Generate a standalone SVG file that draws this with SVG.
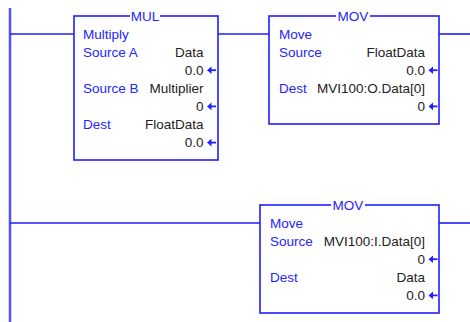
<svg xmlns="http://www.w3.org/2000/svg" width="470" height="322" viewBox="0 0 470 322">
<defs>
<style>
.box{fill:#fff;stroke:#1f1fff;stroke-width:1.6}
.wire{stroke:#1f1fff;stroke-width:1.6;fill:none}
.rail{stroke:#5050ff;stroke-width:2.5;fill:none}
.lbl{font-family:"Liberation Sans",Arial,sans-serif;font-size:13.5px;fill:#2424ff}
.val{font-family:"Liberation Sans",Arial,sans-serif;font-size:13.5px;fill:#222;text-anchor:end}
.ttl{font-family:"Liberation Sans",Arial,sans-serif;font-size:13.5px;fill:#2424ff;text-anchor:middle}
.arr{fill:#1f1fff;stroke:none}
.arrs{stroke:#1f1fff;stroke-width:1.8;fill:none}
</style>
<g id="arrow">
<path class="arr" d="M0,0 L4.5,-3.8 L4.5,3.8 Z"/>
<path class="arrs" d="M3,0 L9,0"/>
</g>
</defs>
<g id="connectors">
<path class="rail" d="M10,8 V322"/>
<path class="wire" d="M10,34 H74"/>
<path class="wire" d="M218,34 H269"/>
<path class="wire" d="M439,34 H470"/>
<path class="wire" d="M10,223 H260"/>
<path class="wire" d="M439,223 H470"/>
</g>
<g id="mul">
<rect class="box" x="74" y="16" width="144" height="144"/>
<rect x="130" y="12" width="30" height="8" fill="#fff"/>
<text class="ttl" x="145" y="20.5">MUL</text>
<text class="lbl" x="83" y="38.5">Multiply</text>
<text class="lbl" x="83" y="56.6">Source A</text>
<text class="val" x="203.5" y="56.6">Data</text>
<text class="val" x="203.5" y="74.7">0.0</text>
<use href="#arrow" x="207" y="70.2"/>
<text class="lbl" x="83" y="92.8">Source B</text>
<text class="val" x="203.5" y="92.8">Multiplier</text>
<text class="val" x="203.5" y="110.9">0</text>
<use href="#arrow" x="207" y="106.4"/>
<text class="lbl" x="83" y="129">Dest</text>
<text class="val" x="203.5" y="129">FloatData</text>
<text class="val" x="203.5" y="147.1">0.0</text>
<use href="#arrow" x="207" y="142.6"/>
</g>
<g id="mov1">
<rect class="box" x="269" y="16" width="170" height="108"/>
<rect x="336" y="12" width="34" height="8" fill="#fff"/>
<text class="ttl" x="353" y="20.5">MOV</text>
<text class="lbl" x="279" y="38.5">Move</text>
<text class="lbl" x="279" y="56.6">Source</text>
<text class="val" x="425" y="56.6">FloatData</text>
<text class="val" x="425" y="74.7">0.0</text>
<use href="#arrow" x="428.5" y="70.2"/>
<text class="lbl" x="279" y="92.8">Dest</text>
<text class="val" x="425" y="92.8">MVI100:O.Data[0]</text>
<text class="val" x="425" y="110.9">0</text>
<use href="#arrow" x="428.5" y="106.4"/>
</g>
<g id="mov2">
<rect class="box" x="260" y="205" width="179" height="108"/>
<rect x="331" y="201" width="34" height="8" fill="#fff"/>
<text class="ttl" x="348" y="209.5">MOV</text>
<text class="lbl" x="270" y="227.5">Move</text>
<text class="lbl" x="270" y="245.6">Source</text>
<text class="val" x="425" y="245.6">MVI100:I.Data[0]</text>
<text class="val" x="425" y="263.7">0</text>
<use href="#arrow" x="428.5" y="259.2"/>
<text class="lbl" x="270" y="281.8">Dest</text>
<text class="val" x="425" y="281.8">Data</text>
<text class="val" x="425" y="299.9">0.0</text>
<use href="#arrow" x="428.5" y="295.4"/>
</g>
</svg>
